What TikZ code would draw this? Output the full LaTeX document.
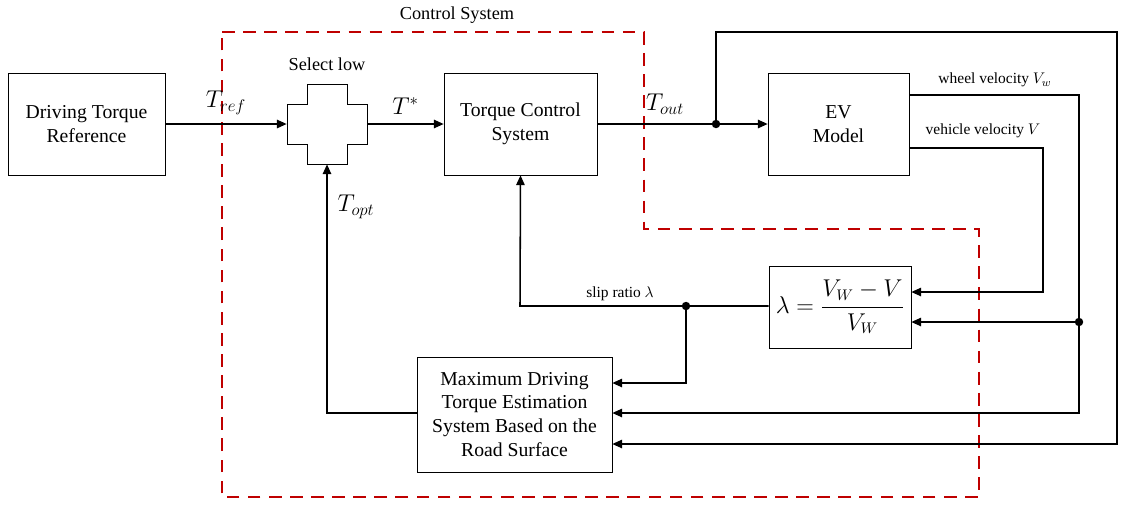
\documentclass[tikz,border=0pt]{standalone}
\usepackage{amsmath}
\usepackage{fontspec}
\setmainfont{Liberation Serif}
\usetikzlibrary{arrows.meta,calc}
\tikzset{
%Define standard arrow tip
>={Triangle[length=7pt,width=6pt]},
%Define styles for blocks and signal lines
block/.style={draw, thin, align=center, font=\fontsize{14}{17}\selectfont, inner sep=0pt},
signal/.style={line width=1.1pt},
boundary/.style={draw=red!75!black, line width=0.8pt, dash pattern=on 9pt off 6pt},
dot/.style={circle, fill, inner sep=0pt, minimum size=6pt},
small label/.style={font=\fontsize{11}{13}\selectfont},
sig label/.style={font=\fontsize{17}{19}\selectfont, above=3pt},
}

\begin{document}
\begin{tikzpicture}[x=0.025cm, y=-0.025cm]
    \useasboundingbox (0,0) rectangle (1136,516);

    % control system boundary
    \draw[boundary] (222,32) -- (644,32) -- (644,229) -- (979,229) -- (979,497) -- (222,497) -- cycle;
    \node[font=\fontsize{13}{15}\selectfont] (title) at (457,15) {Control System};

    % blocks
    \node[block, minimum width=3.925cm, minimum height=2.55cm] (ref) at (86.5,124) {Driving Torque\\Reference};
    \node[block, minimum width=3.825cm, minimum height=2.55cm] (tcs) at (520.5,124) {Torque Control\\System};
    \node[block, minimum width=3.525cm, minimum height=2.55cm] (ev) at (838.5,124) {EV\\Model};
    \node[block, minimum width=3.55cm, minimum height=2.05cm, font=\fontsize{16}{19}\selectfont] (slip) at (840,307)
        {$\lambda=\dfrac{V_W-V}{V_W}$};
    \node[block, minimum width=4.875cm, minimum height=2.875cm] (est) at (514.5,414.5)
        {Maximum Driving\\Torque Estimation\\System Based on the\\Road Surface};

    % select low
    \node[minimum size=2cm, inner sep=0pt] (sel) at (327,124) {};
    \draw[thin] (307,84) -- (347,84) -- (347,104) -- (367,104) -- (367,144) -- (347,144)
        -- (347,164) -- (307,164) -- (307,144) -- (287,144) -- (287,104) -- (307,104) -- cycle;
    \node[font=\fontsize{13}{15}\selectfont] (sellabel) at (327,64) {Select low};

    % junctions
    \coordinate (jout) at (716,124);
    \coordinate (jslip) at (686,306);
    \coordinate (jw) at (1079,322);
    \node[dot] at (jout) {};
    \node[dot] at (jslip) {};
    \node[dot] at (jw) {};

    % forward path
    \draw[signal,->] (ref.east) -- node[sig label] {$T_{ref}$} (sel.west);
    \draw[signal,->] (sel.east) -- node[sig label] {$T^{*}$} (tcs.west);
    \draw[signal] (tcs.east) -- node[sig label, xshift=6pt] {$T_{out}$} (jout);
    \draw[signal,->] (jout) -- (ev.west);

    % measured signals
    \draw[signal] (ev.east |- 0,95) -- (1079,95) -- (jw);
    \node[small label] (wlabel) at (995,80) {wheel velocity $V_w$};
    \draw[signal,->] (ev.east |- 0,148) -- (1043,148) -- (1043,292) -- (slip.east |- 0,292);
    \node[small label] (vlabel) at (983,131) {vehicle velocity $V$};
    \draw[signal,->] (jw) -- (slip.east |- jw);
    \draw[signal,->] (jw) -- (1079,413) -- (est.east |- 0,413);
    \draw[signal,->] (jout) -- (716,32) -- (1117,32) -- (1117,444) -- (est.east |- 0,444);

    % feedback
    \draw[signal,->] (slip.west |- jslip) -- (jslip) -- (520,306) -- (tcs.south);
    \node[small label] (slabel) at (620,294) {slip ratio $\lambda$};
    \draw[signal,->] (jslip) -- (686,383) -- (est.east |- 0,383);
    \draw[signal,->] (est.west |- 0,413) -- (327,413) -- (sel.south);
    \node[font=\fontsize{17}{19}\selectfont] (optlabel) at (356,207) {$T_{opt}$};
\end{tikzpicture}
\end{document}
